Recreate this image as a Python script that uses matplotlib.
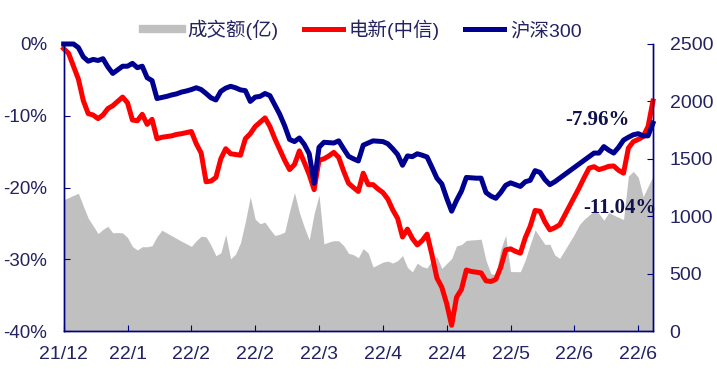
import numpy as np
import matplotlib
matplotlib.use('Agg')
from matplotlib import pyplot as plt
from matplotlib.lines import Line2D

plt.rcParams['font.family'] = ['Liberation Sans', 'Noto Sans CJK SC', 'DejaVu Sans']

# data (one value per trading day)
hs300 = [0, 0, 0, -0.5, -1.8, -2.4, -2.15, -2.3, -2.05, -3.2,
         -4.1, -3.6, -3.1, -3.1, -2.7, -3.3, -3.1, -4.7, -5.1, -7.6,
         -7.45, -7.3, -7.1, -6.95, -6.7, -6.55, -6.35, -6.1, -6.35, -6.9,
         -7.5, -7.8, -6.6, -6.15, -5.9, -6.1, -6.4, -6.5, -8.0, -7.4,
         -7.3, -6.9, -7.2, -8.5, -9.8, -11.4, -13.3, -13.6, -13.1, -14.0,
         -15.3, -19.4, -14.4, -13.7, -13.75, -13.8, -13.5, -14.6, -15.65, -16.0,
         -16.3, -14.1, -13.8, -13.5, -13.55, -13.6, -13.9, -14.6, -15.4, -16.9,
         -15.6, -15.7, -15.3, -15.5, -15.75, -17.2, -18.7, -19.5, -21.5, -23.3,
         -21.8, -20.5, -18.6, -18.65, -18.7, -18.7, -20.7, -21.2, -21.5, -20.7,
         -19.7, -19.35, -19.6, -19.85, -19.2, -19.0, -17.65, -17.9, -18.9, -19.6,
         -19.2, -18.7, -18.2, -17.7, -17.2, -16.7, -16.2, -15.7, -15.2, -15.2,
         -14.3, -14.8, -15.2, -14.4, -13.4, -13.0, -12.65, -12.5, -12.8, -12.8,
         -11.04]

elec = [-0.65, -1.3, -3.1, -4.9, -7.9, -9.7, -9.9, -10.4, -9.9, -9.0,
        -8.6, -8.0, -7.4, -8.2, -10.6, -10.7, -9.8, -11.2, -10.5, -13.2,
        -13.0, -12.9, -12.8, -12.6, -12.5, -12.35, -12.2, -13.9, -15.2, -19.2,
        -19.1, -18.6, -16.0, -14.6, -15.3, -15.4, -15.5, -13.2, -12.5, -11.5,
        -10.9, -10.3, -11.5, -13.2, -14.7, -16.2, -17.5, -16.8, -14.9, -16.5,
        -18.2, -20.3, -16.2, -16.0, -15.6, -15.1, -15.8, -17.7, -19.4, -20.0,
        -20.55, -18.0, -19.6, -19.6, -20.2, -20.7, -21.6, -23.1, -24.3, -26.9,
        -25.8, -27.1, -28.0, -27.4, -26.5, -29.4, -32.6, -33.9, -36.2, -39.2,
        -35.3, -34.2, -31.5, -31.7, -31.8, -31.9, -33.0, -33.1, -32.8, -31.1,
        -28.7, -28.55, -28.9, -29.15, -27.0, -25.4, -23.2, -23.3, -24.8, -25.9,
        -25.6, -25.2, -23.9, -22.6, -21.3, -20.0, -18.6, -17.3, -17.1, -17.5,
        -17.3, -17.05, -17.0, -17.6, -18.0, -14.5, -13.6, -13.3, -12.9, -11.5,
        -7.96]

volume = [1143, 1162, 1182, 1200, 1088, 983, 916, 849, 885, 912,
          855, 858, 854, 815, 736, 706, 734, 734, 743, 823,
          878, 854, 830, 806, 782, 760, 737, 787, 826, 820,
          747, 656, 680, 840, 628, 670, 768, 954, 1170, 974,
          935, 948, 886, 832, 843, 861, 1044, 1206, 1031, 904,
          794, 1023, 1185, 759, 775, 787, 786, 745, 677, 665,
          638, 718, 680, 557, 578, 600, 609, 592, 613, 658,
          554, 515, 591, 561, 549, 620, 646, 545, 589, 630,
          742, 753, 789, 793, 796, 800, 615, 499, 492, 712,
          833, 518, 517, 517, 620, 753, 881, 818, 754, 756,
          662, 633, 702, 773, 844, 925, 974, 1010, 1046, 1022,
          964, 1032, 1010, 990, 971, 1350, 1390, 1340, 1170, 1260,
          1346]

date_labels = ['21/12', '22/1', '22/2', '22/2', '22/3', '22/4', '22/4', '22/5', '22/6', '22/6']

x = np.arange(len(hs300))
txt = '#242260'
spine_c = '#00007F'

fig = plt.figure(figsize=(7.17, 3.75), dpi=100)
ax = fig.add_axes([0.0888, 0.1173, 0.8219, 0.7654])
ax2 = ax.twinx()

# gray volume area behind the lines
ax2.fill_between(x, 0, volume, color='#C0C0C0', linewidth=0)
ax2.set_ylim(0, 2500)
ax2.set_yticks([0, 500, 1000, 1500, 2000, 2500])

ax.set_zorder(ax2.get_zorder() + 1)
ax.patch.set_visible(False)

ax.plot(x, elec, color='#FF0000', lw=3.6, solid_joinstyle='round', clip_on=False)
ax.plot(x, hs300, color='#000090', lw=3.6, solid_joinstyle='round', clip_on=False)
ax.set_xlim(0, len(x) - 1)
ax.set_ylim(-40, 0)
ax.set_yticks([0, -10, -20, -30, -40])
ax.set_yticklabels(['0%', '-10%', '-20%', '-30%', '-40%'])
ax.set_xticks(np.arange(len(date_labels)) * 13)
ax.set_xticklabels(date_labels)

for a in (ax, ax2):
    a.spines['top'].set_visible(False)
    for s in ('left', 'right', 'bottom'):
        a.spines[s].set_color(spine_c)
        a.spines[s].set_linewidth(1.0)
    a.tick_params(direction='in', length=4, color=spine_c, labelcolor=txt, labelsize=13.5, pad=12)
ax.tick_params(axis='x', pad=11, labelsize=14)
ax2.tick_params(axis='y', labelsize=14)

ax.text(108.6, -10.6, '-7.96%', family='Liberation Serif', weight='bold', fontsize=15,
        color='#10104A', ha='center', va='center')
ax.text(113.2, -22.9, '-11.04%', family='Liberation Serif', weight='bold', fontsize=15,
        color='#10104A', ha='center', va='center')

handles = [Line2D([], [], color='#C0C0C0', lw=6),
           Line2D([], [], color='#FF0000', lw=3.6),
           Line2D([], [], color='#000090', lw=3.6)]
fig.legend(handles, ['成交额(亿)', '电新(中信)', '沪深300'], loc='center', bbox_to_anchor=(0.505, 0.92),
           ncol=3, frameon=False, fontsize=14, handlelength=2.0, handletextpad=0.3,
           columnspacing=1.3, labelcolor=txt)

plt.savefig('out.png', dpi=100)
